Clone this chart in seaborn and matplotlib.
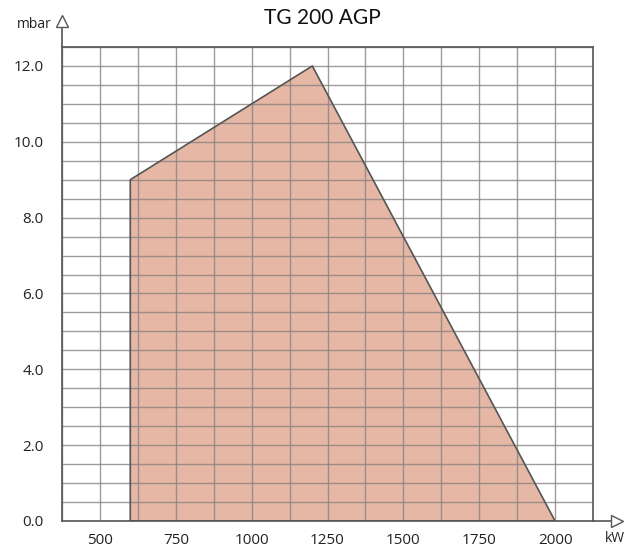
import matplotlib
matplotlib.use("Agg")
import matplotlib.pyplot as plt
import seaborn as sns
import numpy as np

# working field of the burner (kW vs mbar)
power_kw = [600, 600, 1200, 2000]
pressure_mbar = [0.0, 9.0, 12.0, 0.0]

x_ticks = [500, 750, 1000, 1250, 1500, 1750, 2000]
y_ticks = [0.0, 2.0, 4.0, 6.0, 8.0, 10.0, 12.0]
title = "TG 200 AGP"

sns.set_style("white")
plt.rcParams['font.family'] = ['Open Sans', 'DejaVu Sans']

fig = plt.figure(figsize=(6.27, 5.47), dpi=100)
ax = fig.add_axes([62 / 627, 1 - 521 / 547, (593 - 62) / 627, (521 - 47) / 547])

ax.fill(power_kw, pressure_mbar, color="#e5b7a4", zorder=1, linewidth=0)
sns.lineplot(x=power_kw + [power_kw[0]], y=pressure_mbar + [pressure_mbar[0]],
             sort=False, estimator=None, color="#555555", linewidth=1.2, ax=ax, zorder=3)

ax.set_xlim(375, 2125)
ax.set_ylim(0, 12.5)

# grid every 125 kW / 0.5 mbar, labels only on some lines
grid_x = np.arange(375, 2126, 125)
grid_y = np.arange(0, 12.51, 0.5)
ax.set_xticks(grid_x)
ax.set_xticklabels([str(int(v)) if v in x_ticks else "" for v in grid_x])
ax.set_yticks(grid_y)
ax.set_yticklabels([f"{v:.1f}" if v in y_ticks else "" for v in grid_y])
ax.grid(True, color="#8a8282", linewidth=1.0, alpha=0.8, zorder=2)
ax.set_axisbelow(False)

ax.tick_params(axis="both", length=0, labelsize=11, colors="#222222")
ax.tick_params(axis="x", pad=9)
ax.tick_params(axis="y", pad=13)
ax.set_xlabel("")
ax.set_ylabel("")

for side in ["left", "bottom", "top", "right"]:
    ax.spines[side].set_color("#555555")
    ax.spines[side].set_linewidth(1.2)
    ax.spines[side].set_zorder(4)

# axis arrows
ax.plot([0, 0], [1, 1.04], transform=ax.transAxes, color="#555555", lw=1.2, clip_on=False)
ax.plot([0], [1.055], transform=ax.transAxes, marker="^", markersize=8,
        markerfacecolor="white", markeredgecolor="#555555", clip_on=False)
ax.plot([1, 1.04], [0, 0], transform=ax.transAxes, color="#555555", lw=1.2, clip_on=False)
ax.plot([1.045], [0], transform=ax.transAxes, marker=">", markersize=8,
        markerfacecolor="white", markeredgecolor="#555555", clip_on=False)

fig.text(52 / 627, 1 - 24 / 547, "mbar", ha="right", va="center", fontsize=10, color="#222222")
fig.text(615 / 627, 1 - 538 / 547, "kW", ha="center", va="center", fontsize=10, color="#222222")
fig.text(322 / 627, 1 - 18 / 547, title, ha="center", va="center", fontsize=15,
         family=["Lato", "DejaVu Sans"], color="#111111")

fig.savefig("out.png", dpi=100)
